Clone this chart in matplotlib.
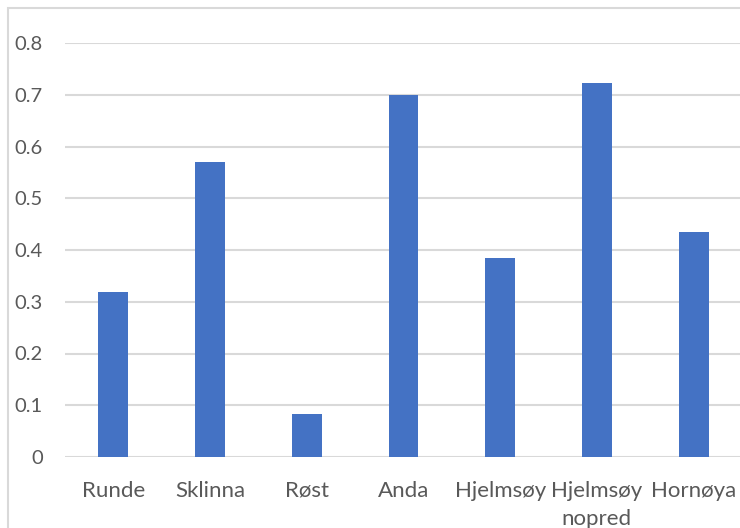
import matplotlib.pyplot as plt
from matplotlib.patches import Rectangle
import numpy as np

# colonies and their values
colonies = ["Runde", "Sklinna", "Røst", "Anda", "Hjelmsøy", "Hjelmsøy\nnopred", "Hornøya"]
values = [0.319, 0.570, 0.083, 0.700, 0.385, 0.723, 0.435]
yticks = [0, 0.1, 0.2, 0.3, 0.4, 0.5, 0.6, 0.7, 0.8]

plt.rcParams['font.family'] = ['Lato', 'DejaVu Sans']

W, H = 740, 528
fig = plt.figure(figsize=(W / 100, H / 100), dpi=100)

# chart area border (light gray frame)
fig.patches.append(Rectangle((8 / W, -0.1), 1.2, (H - 8) / H + 0.1,
                             transform=fig.transFigure, fill=False,
                             edgecolor="#D9D9D9", linewidth=1.5))

ax = fig.add_axes([65 / W, (H - 457) / H, (742 - 65) / W, (457 - 43) / H])
x = np.arange(len(colonies))
ax.bar(x, values, width=0.31, color="#4472C4", zorder=3)

ax.set_xlim(-0.5, len(colonies) - 0.5)
ax.set_ylim(0, 0.8)
ax.set_yticks(yticks)
ax.set_yticklabels(["0" if v == 0 else f"{v:.1f}" for v in yticks])
ax.set_xticks(x)
ax.set_xticklabels(colonies, linespacing=1.5)

for v in yticks:
    ax.axhline(v, color="#D9D9D9", linewidth=1.5, zorder=1)

for s in ax.spines.values():
    s.set_visible(False)

ax.tick_params(axis="y", length=0, pad=16, labelsize=14.5, labelcolor="#595959")
ax.tick_params(axis="x", length=0, pad=17, labelsize=16, labelcolor="#595959")

fig.savefig("out.png", dpi=100)
